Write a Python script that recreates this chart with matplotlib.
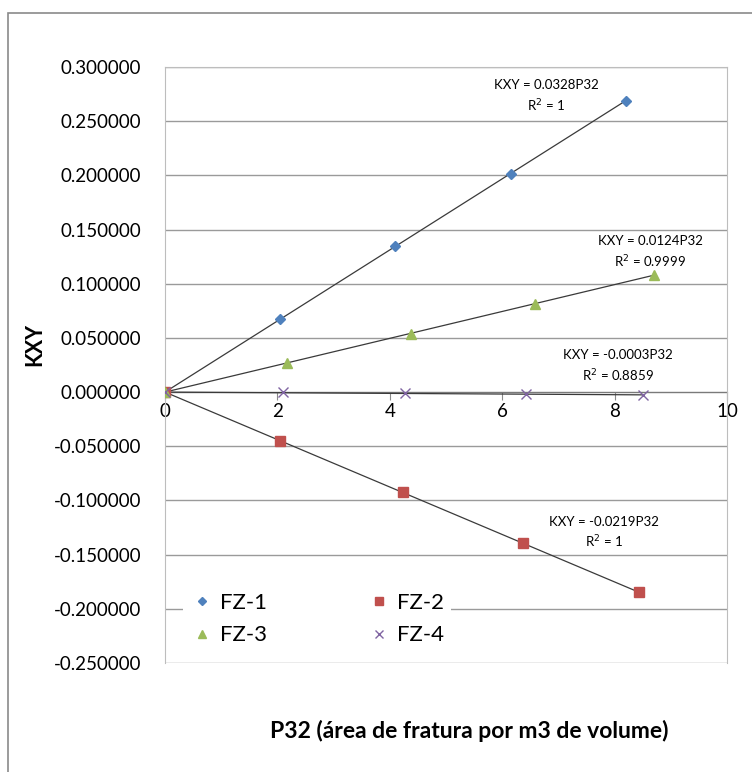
import matplotlib.pyplot as plt
from matplotlib.patches import Rectangle
import numpy as np

plt.rcParams['font.family'] = ['Lato', 'DejaVu Sans']

# P32 values and KXY for each fracture zone
p32_fz1 = [0, 2.05, 4.10, 6.15, 8.20]
kxy_fz1 = [0, 0.0672, 0.1345, 0.2017, 0.2690]
p32_fz2 = [0, 2.05, 4.23, 6.37, 8.43]
kxy_fz2 = [0, -0.0449, -0.0926, -0.1395, -0.1846]
p32_fz3 = [0, 2.17, 4.38, 6.58, 8.70]
kxy_fz3 = [0, 0.0266, 0.0538, 0.0810, 0.1076]
p32_fz4 = [0, 2.10, 4.27, 6.42, 8.50]
kxy_fz4 = [0, 0.0003, -0.0006, -0.0019, -0.0025]

labels = ['FZ-1', 'FZ-2', 'FZ-3', 'FZ-4']
slopes = [0.0328, -0.0219, 0.0124, -0.0003]
r2 = ['1', '1', '0.9999', '0.8859']
# where each trendline equation sits (data coords)
eq_pos = [(6.78, 0.2728), (7.81, -0.130), (8.63, 0.129), (8.06, 0.024)]
yticks = [-0.25, -0.2, -0.15, -0.1, -0.05, 0.0, 0.05, 0.1, 0.15, 0.2, 0.25, 0.3]

series = [(p32_fz1, kxy_fz1), (p32_fz2, kxy_fz2), (p32_fz3, kxy_fz3), (p32_fz4, kxy_fz4)]
colors = ['#4F81BD', '#C0504D', '#9BBB59', '#8064A2']
markers = ['D', 's', '^', 'x']
msizes = [5, 6.5, 7, 7]

fig = plt.figure(figsize=(7.52, 7.72), dpi=100)
ax = fig.add_axes([165/752, 1 - 663/772, 562/752, 596/772])

# chart border (left and top only visible)
fig.patches.append(Rectangle((8/752, -0.1), 2, 1 - 13/772 + 0.1, transform=fig.transFigure,
                             fill=False, edgecolor='#8a8a8a', lw=1.2))

handles = []
for (x, y), lab, c, m, ms, k in zip(series, labels, colors, markers, msizes, slopes):
    xs = np.array([0, max(x)])
    ax.plot(xs, k * xs, color='#3a3a3a', lw=0.9, zorder=2)
    if m == 'x':
        h, = ax.plot(x, y, linestyle='none', marker=m, color=c, ms=ms, mew=1.0, label=lab, zorder=3)
    else:
        h, = ax.plot(x, y, linestyle='none', marker=m, color=c, mec=c, ms=ms, label=lab, zorder=3)
    handles.append(h)

for (px, py), k, r in zip(eq_pos, slopes, r2):
    ax.text(px, py, 'KXY = %sP32\nR$^2$ = %s' % (('%.4f' % k), r), ha='center', va='center',
            fontsize=9.5, linespacing=1.45, zorder=4)

ax.set_xlim(0, 10)
ax.set_ylim(-0.25, 0.3)
ax.set_xticks(np.arange(0, 11, 2))
ax.set_yticks(yticks)
ax.set_yticklabels(['%.6f' % v for v in yticks])
ax.yaxis.grid(True, color='#9a9a9a', lw=1)
ax.set_axisbelow(True)

ax.spines['bottom'].set_position(('data', 0))
ax.spines['bottom'].set_color('#7a7a7a')
ax.spines['bottom'].set_zorder(1)
for s in ['left', 'right', 'top']:
    ax.spines[s].set_color('#bdbdbd')
ax.tick_params(axis='y', length=0, pad=17, labelsize=13.5)
ax.tick_params(axis='x', length=6, direction='out', color='#8a8a8a', pad=2, labelsize=13.5)

fig.text(35/752, 1 - 345/772, 'KXY', rotation=90, ha='center', va='center',
         fontsize=15.5, fontweight='bold')
fig.text(469/752, 1 - 731/772, 'P32 (área de fratura por m3 de volume)', ha='center',
         va='center', fontsize=16.5, fontweight='bold')

# legend filled row by row: FZ-1 FZ-2 / FZ-3 FZ-4
order = [0, 2, 1, 3]
leg = ax.legend([handles[i] for i in order], [labels[i] for i in order], ncol=2,
                loc='lower left', bbox_to_anchor=(0.012, -0.002), fontsize=16,
                frameon=True, fancybox=False, edgecolor='none', framealpha=1,
                handlelength=1.0, handletextpad=0.3, columnspacing=4.55,
                labelspacing=0.55, borderpad=0.35, markerscale=0.85)

fig.savefig('out.png', dpi=100)
